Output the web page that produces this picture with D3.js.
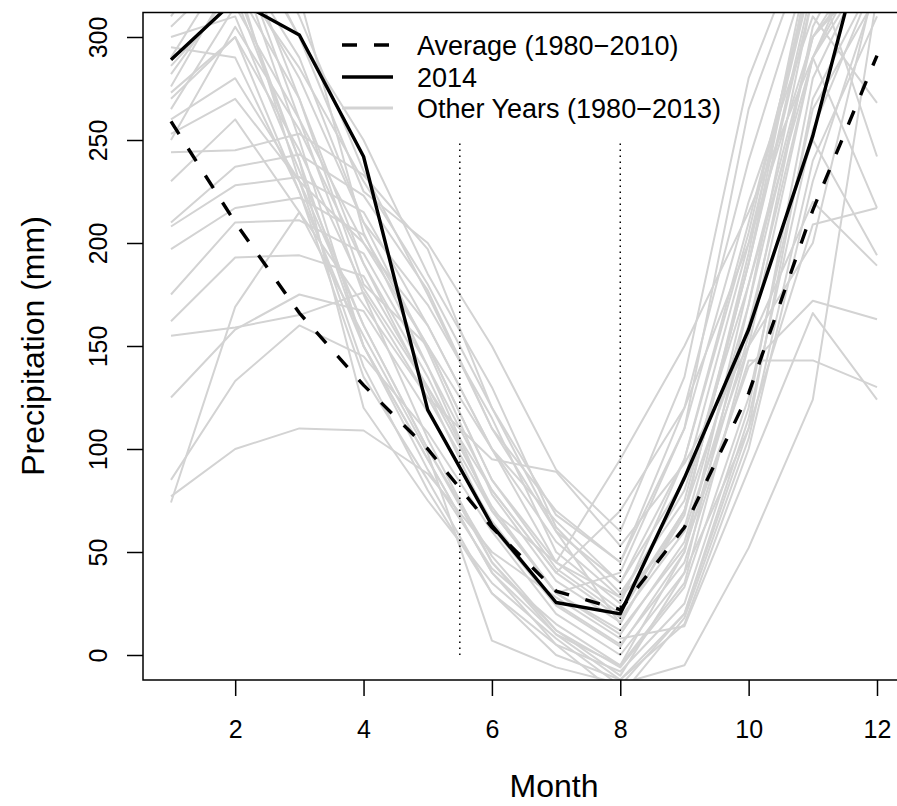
<!DOCTYPE html>
<html><head><meta charset="utf-8">
<script src="https://cdn.jsdelivr.net/npm/d3@7"></script>
<style>
html,body{margin:0;padding:0;background:#fff;}
svg{display:block;font-family:"Liberation Sans",Arial,Helvetica,sans-serif;}
</style></head>
<body><svg id="chart" width="897" height="806"></svg>
<script>
// ---- data ----
const months = [1,2,3,4,5,6,7,8,9,10,11,12];
const xTicks = [2,4,6,8,10,12];
const yTicks = [0,50,100,150,200,250,300];
const avgValues = [259,210,166,131,100,62,31,22,62,127,216,291];
const y2014 = [289,318,301,242,119,63,25.5,20,86,158,252,371];
const otherYears = [
  [345,360,300,250,185,130,62,30,75,190,320,380],
  [335,380,320,205,140,70,30,40,110,265,350,400],
  [330,340,250,150,95,40,10,-5,35,150,290,360],
  [325,350,270,180,150,100,65,35,85,200,330,370],
  [320,330,230,140,80,30,5,-8,25,120,280,345],
  [318,370,310,235,175,110,70,45,120,240,340,390],
  [315,345,260,175,105,45,12,-10,40,170,320,340],
  [312,325,240,120,75,35,8,-15,20,110,270,330],
  [310,355,300,225,200,150,90,60,135,280,360,385],
  [305,335,280,210,170,115,50,25,95,210,330,355],
  [286,320,240,150,90,42,15,-5,50,180,300,340],
  [276,330,285,230,180,120,60,15,70,190,340,395],
  [273,300,225,135,85,30,0,-12,15,100,230,325],
  [265,315,260,200,150,85,42,20,70,190,325,375],
  [253,270,230,200,160,100,45,28,62,170,300,350],
  [244,245,253,233,197,120,68,45,110,220,310,268],
  [210,237,243,223,177,110,60,35,95,205,335,242],
  [208,228,232,215,160,100,55,28,80,180,290,217],
  [197,217,222,204,150,85,45,22,70,160,250,194],
  [175,210,211,195,140,80,40,18,60,150,220,189],
  [162,193,194,184,130,72,30,12,52,140,172,163],
  [155,159,165,176,125,95,89,53,93,150,200,330],
  [125,158,175,167,118,65,25,5,45,143,143,130],
  [85,133,160,145,108,60,20,0,40,110,209,217],
  [77,100,110,109,88,50,28,8,14,90,166,124],
  [74,169,215,155,98,7,-6,-14,-5,52,124,320],
  [300,310,235,160,100,45,10,-12,20,115,255,330],
  [295,290,225,150,95,40,5,-20,18,105,240,310],
  [290,340,290,210,148,78,36,16,68,195,345,400],
  [282,325,270,190,128,62,24,4,50,155,305,365],
  [270,300,245,178,130,80,40,70,120,200,300,335],
  [260,280,230,160,100,48,12,-6,33,125,265,320],
  [250,305,255,190,135,70,30,10,55,160,290,350],
  [230,260,215,170,125,70,45,95,150,215,290,340]
];
const dividers = [5.5, 8];
const dividerRange = [0, 250];
const legendLabels = ["Average (1980\u22122010)", "2014", "Other Years (1980\u22122013)"];

// ---- layout ----
const svg = d3.select("#chart");
const plot = {left:143, top:12.5, right:905, bottom:680};
const x = d3.scaleLinear().domain([1,12]).range([171,877]);
const y = d3.scaleLinear().domain([0,300]).range([655,37]);
const grey = "#D3D3D3";

svg.append("defs").append("clipPath").attr("id","clip")
  .append("rect").attr("x",plot.left).attr("y",plot.top)
  .attr("width",plot.right-plot.left).attr("height",plot.bottom-plot.top);

const g = svg.append("g").attr("clip-path","url(#clip)");
const line = d3.line().x((d,i)=>x(months[i])).y(d=>y(d));

g.selectAll("path.other").data(otherYears).enter().append("path")
  .attr("class","other").attr("d",line).attr("fill","none")
  .attr("stroke",grey).attr("stroke-width",2).attr("stroke-linejoin","round");

g.selectAll("line.div").data(dividers).enter().append("line")
  .attr("x1",d=>x(d)).attr("x2",d=>x(d))
  .attr("y1",y(dividerRange[0])).attr("y2",y(dividerRange[1]))
  .attr("stroke","#000").attr("stroke-width",1.5).attr("stroke-dasharray","1.5,4.5");

g.append("path").datum(avgValues).attr("d",line).attr("fill","none")
  .attr("stroke","#000").attr("stroke-width",3.4).attr("stroke-dasharray","15,17");
g.append("path").datum(y2014).attr("d",line).attr("fill","none")
  .attr("stroke","#000").attr("stroke-width",3.4).attr("stroke-linejoin","round");

// box
svg.append("rect").attr("x",plot.left).attr("y",plot.top)
  .attr("width",plot.right-plot.left).attr("height",plot.bottom-plot.top)
  .attr("fill","none").attr("stroke","#000").attr("stroke-width",1.5);

// axes
const xAxis = d3.axisBottom(x).tickValues(xTicks).tickSize(16).tickPadding(24).tickFormat(d3.format("d"));
const xg = svg.append("g").attr("transform",`translate(0,${plot.bottom})`).call(xAxis);
xg.select(".domain").remove();
xg.selectAll("line").attr("stroke-width",1.5);
xg.selectAll("text").attr("font-size",25).attr("font-family","Liberation Sans, Arial, sans-serif");

const yAxis = d3.axisLeft(y).tickValues(yTicks).tickSize(16).tickFormat(d3.format("d"));
const yg = svg.append("g").attr("transform",`translate(${plot.left},0)`).call(yAxis);
yg.select(".domain").remove();
yg.selectAll("line").attr("stroke-width",1.5);
yg.selectAll("text").attr("font-size",25).attr("font-family","Liberation Sans, Arial, sans-serif")
  .attr("x",null).attr("dy",null).attr("text-anchor","middle")
  .attr("transform","translate(-36,0) rotate(-90)");

// axis titles
svg.append("text").attr("x",554).attr("y",797).attr("text-anchor","middle")
  .attr("font-size",32).text("Month");
svg.append("text").attr("transform","translate(44,346) rotate(-90)").attr("text-anchor","middle")
  .attr("font-size",32).text("Precipitation (mm)");

// legend
const legY = [45,77,108];
const lg = svg.append("g");
legendLabels.forEach((lab,i)=>{
  const l = lg.append("line").attr("x1",342).attr("x2",393).attr("y1",legY[i]).attr("y2",legY[i])
    .attr("stroke", i===2?grey:"#000").attr("stroke-width", i===2?3:3.4);
  if(i===0) l.attr("stroke-dasharray","15,17");
  lg.append("text").attr("x",417).attr("y",legY[i]+9.5).attr("font-size",27).text(lab);
});
</script></body></html>
